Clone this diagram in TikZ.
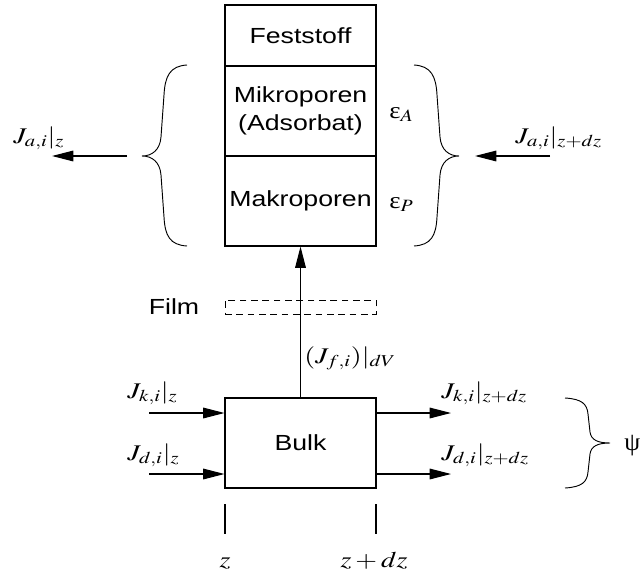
\documentclass[tikz,border=0pt]{standalone}
\usepackage[no-math]{fontspec}
\usepackage{mathptmx}
\usepackage{graphicx}
\usetikzlibrary{arrows.meta}
\newfontfamily\lab[FakeStretch=1.22]{Liberation Sans}
\newfontfamily\grk{Liberation Serif}
% wide-set formula
\newcommand{\mth}[1]{\scalebox{1.25}[1]{$#1$}}

\tikzset{
  cell/.style={draw, line width=0.8pt, minimum width=113.25pt, inner sep=0pt,
    font=\lab\fontsize{16.4pt}{21pt}\selectfont, align=center},
  txt/.style={inner sep=0pt, font=\lab\fontsize{16.4pt}{21pt}\selectfont},
  arr/.style={line width=0.8pt, -{Triangle[length=16pt,width=8pt]}},
  mlab/.style={inner sep=0pt, anchor=base west, font=\fontsize{16.8pt}{20pt}\selectfont},
  glab/.style={inner sep=0pt, anchor=base west, font=\grk\fontsize{17.5pt}{20pt}\selectfont},
  ln/.style={line width=0.8pt},
  brace/.style={line width=0.7pt},
  filmbox/.style={draw, line width=0.75pt, dash pattern=on 5pt off 3.5pt,
    minimum width=113.25pt, minimum height=10.5pt, inner sep=0pt}
}

\begin{document}
\begin{tikzpicture}[x=0.75pt,y=-0.75pt]
\useasboundingbox (0,0) rectangle (641,574);

% particle: solid, micropores, macropores
\node[cell, minimum height=45.75pt] (fest)  at (300.5,35.5) {Feststoff};
\node[cell, minimum height=67.5pt]  (mikro) at (300.5,111)  {Mikroporen\\(Adsorbat)};
\node[cell, minimum height=67.5pt]  (makro) at (300.5,201)  {Makroporen};

% film and bulk phase
\node[filmbox] (film) at (300.5,307) {};
\node[txt] (filmlab) at (174,307) {Film};
\node[cell, minimum height=67.5pt] (bulk) at (300.5,443) {Bulk};

% transfer through the film
\draw[arr] (bulk.north) -- (makro.south);
\node[mlab] (jf) at (304,363) {\mth{(J_{f,i})|_{dV}}};

% braces around the pore phases
\draw[brace] (187,65) .. controls (170,66) and (165,76) .. (164,95) -- (161,137)
  .. controls (160,150) and (152,156) .. (142,156)
  .. controls (152,156) and (160,162) .. (161,175) -- (164,217)
  .. controls (165,236) and (170,245) .. (187,246);
\draw[brace] (414,65) .. controls (431,66) and (436,76) .. (437,95) -- (440,137)
  .. controls (441,150) and (449,156) .. (459,156)
  .. controls (449,156) and (441,162) .. (440,175) -- (437,217)
  .. controls (436,236) and (431,245) .. (414,246);

\node[glab] (epsA) at (389,118) {\scalebox{1.15}[1]{ε$_A$}};
\node[glab] (epsP) at (389,208) {\scalebox{1.15}[1]{ε$_P$}};

% axial fluxes in the adsorbed phase
\coordinate (las) at (127,156);
\coordinate (lae) at (52,156);
\coordinate (ras) at (550,156);
\coordinate (rae) at (475,156);
\draw[arr] (las) -- (lae);
\draw[arr] (ras) -- (rae);
\node[mlab] (jaz)   at (13,143)  {\mth{J_{a,i}|_{z}}};
\node[mlab] (jazdz) at (515,143) {\mth{J_{a,i}|_{z+dz}}};

% convective and dispersive fluxes in the bulk
\coordinate (kin)  at (149,413);
\coordinate (din)  at (149,474);
\coordinate (kout) at (451,413);
\coordinate (dout) at (451,474);
\draw[arr] (kin) -- (kin -| bulk.west);
\draw[arr] (din) -- (din -| bulk.west);
\draw[arr] (kout -| bulk.east) -- (kout);
\draw[arr] (dout -| bulk.east) -- (dout);
\node[mlab] (jkz)   at (127,398) {\mth{J_{k,i}|_{z}}};
\node[mlab] (jdz)   at (127,460) {\mth{J_{d,i}|_{z}}};
\node[mlab] (jkzdz) at (441,398) {\mth{J_{k,i}|_{z+dz}}};
\node[mlab] (jdzdz) at (441,460) {\mth{J_{d,i}|_{z+dz}}};

% brace for the outgoing fluxes
\draw[brace] (565,398) .. controls (582,399) and (587,404) .. (588,414) -- (590,432)
  .. controls (591,440) and (598,443) .. (610,443)
  .. controls (598,443) and (591,446) .. (590,454) -- (588,472)
  .. controls (587,482) and (582,487) .. (565,488);
\node[glab, font=\grk\fontsize{19pt}{20pt}\selectfont] (psi) at (624,450) {ψ};

% position marks
\coordinate (t1a) at (225,504);
\coordinate (t1b) at (225,534);
\coordinate (t2a) at (376,504);
\coordinate (t2b) at (376,534);
\draw[ln] (t1a) -- (t1b);
\draw[ln] (t2a) -- (t2b);
\node[mlab, anchor=base] (zl)   at (225,567) {\mth{z}};
\node[mlab, anchor=base] (zdzl) at (374,567) {\mth{z+dz}};
\end{tikzpicture}
\end{document}
